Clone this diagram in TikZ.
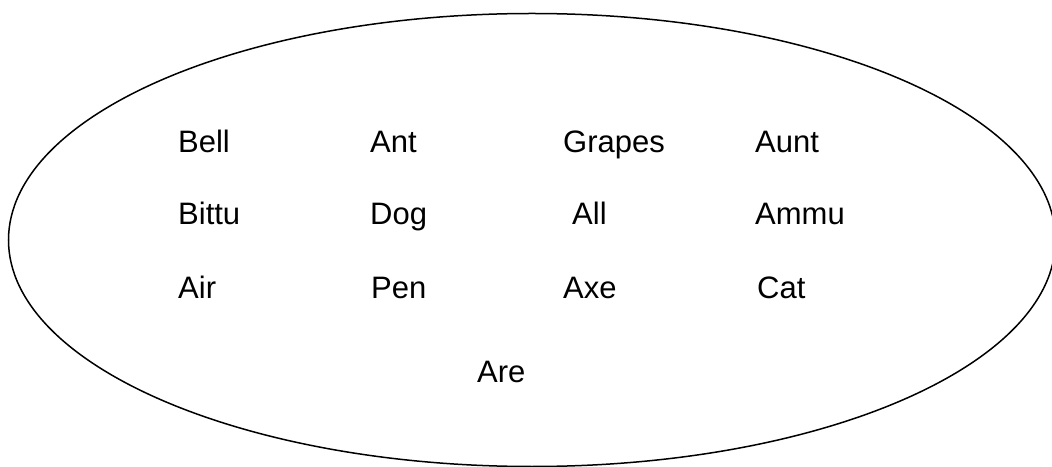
\documentclass[tikz,border=0pt]{standalone}
\usepackage{fontspec}
\setmainfont{Liberation Sans}
\begin{document}
\begin{tikzpicture}[x=1pt,y=1pt,
  word/.style={anchor=base west,inner sep=0pt,font=\fontsize{31}{36}\selectfont}]
\useasboundingbox (0,0) rectangle (1052,466);
\begin{scope}
\clip (0,0) rectangle (1052,466);
\draw[line width=1.5pt] (532,226) ellipse [x radius=523.5, y radius=226.5];
\end{scope}
% row 1
\node[word] (bell)   at (178,313) {Bell};
\node[word] (ant)    at (370,313) {Ant};
\node[word] (grapes) at (563,313) {Grapes};
\node[word] (aunt)   at (755,313) {Aunt};
% row 2
\node[word] (bittu)  at (178,241) {Bittu};
\node[word] (dog)    at (370,241) {Dog};
\node[word] (all)    at (572,241) {All};
\node[word] (ammu)   at (755,241) {Ammu};
% row 3
\node[word] (air)    at (178,167) {Air};
\node[word] (pen)    at (371,167) {Pen};
\node[word] (axe)    at (563,167) {Axe};
\node[word] (cat)    at (757,167) {Cat};
% bottom
\node[word] (are)    at (477,84) {Are};
\end{tikzpicture}
\end{document}
